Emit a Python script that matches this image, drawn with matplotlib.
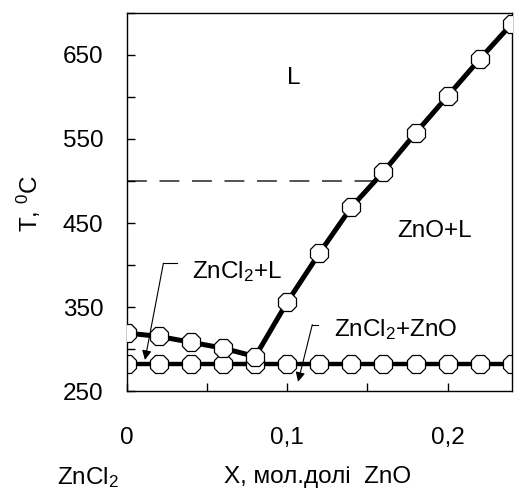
import matplotlib
matplotlib.use("Agg")
import matplotlib.pyplot as plt
import numpy as np

plt.rcParams['font.family'] = ['Liberation Sans', 'DejaVu Sans']
plt.rcParams['mathtext.default'] = 'regular'

# liquidus, X mol. fraction ZnO vs T, C
x_liq = [0, 0.02, 0.04, 0.06, 0.08, 0.10, 0.12, 0.14, 0.16, 0.18, 0.20, 0.22, 0.24]
t_liq = [319, 315, 308, 301, 291, 356, 414, 469, 511, 557, 601, 645, 687]

# eutectic line
x_eut = [0, 0.02, 0.04, 0.06, 0.08, 0.10, 0.12, 0.14, 0.16, 0.18, 0.20, 0.22, 0.24]
t_eut = [282] * 13

x_dash = [0, 0.16]
t_dash = [500, 500]

x_ticks = [0, 0.1, 0.2]
x_labels = ['0', '0,1', '0,2']
y_ticks = [250, 350, 450, 550, 650]

fs = 17.5

fig = plt.figure(figsize=(5.22, 4.9), dpi=100)
ax = fig.add_axes([0.2433, 0.202, 0.737, 0.7715])

ax.plot(x_dash, t_dash, color='#444444', lw=1.3, dashes=(11, 7), zorder=1)
ax.plot(x_eut, t_eut, color='black', lw=3.2, marker='8', ms=14.5,
        mfc='white', mec='black', mew=0.9, zorder=2)
ax.plot(x_liq, t_liq, color='black', lw=3.6, marker='8', ms=14.5,
        mfc='white', mec='black', mew=0.9, zorder=3)

ax.set_xlim(0, 0.24)
ax.set_ylim(250, 700)
ax.set_xticks(x_ticks)
ax.set_xticklabels(x_labels)
ax.set_xticks([0.05, 0.15], minor=True)
ax.set_yticks(y_ticks)
ax.set_yticks([300, 400, 500, 600, 700], minor=True)
ax.tick_params(which='both', direction='in', length=6, width=1, labelsize=fs)
ax.tick_params(axis='x', which='major', pad=26)
ax.tick_params(axis='y', which='major', pad=17)
for s in ax.spines.values():
    s.set_linewidth(1)

ax.text(0.104, 623, 'L', fontsize=fs, ha='center', va='center')
ax.text(0.192, 440, 'ZnO+L', fontsize=fs, ha='center', va='center')
ax.text(0.0405, 392, 'ZnCl$_2$+L', fontsize=fs, ha='left', va='center')
ax.text(0.129, 323, 'ZnCl$_2$+ZnO', fontsize=fs, ha='left', va='center')

# arrows to the regions
ax.plot([0.031, 0.0227], [402, 402], color='black', lw=0.8)
ax.annotate('', xy=(0.0112, 287), xytext=(0.0227, 402),
            arrowprops=dict(arrowstyle='-|>', color='black', lw=0.8,
                            mutation_scale=14, shrinkA=0, shrinkB=0))
ax.plot([0.119, 0.1156], [329, 329], color='black', lw=0.8)
ax.annotate('', xy=(0.1067, 261), xytext=(0.1156, 329),
            arrowprops=dict(arrowstyle='-|>', color='black', lw=0.8,
                            mutation_scale=14, shrinkA=0, shrinkB=0))

fig.text(0.055, 0.585, 'T, $^0$C', fontsize=fs, rotation=90, ha='center', va='center')
fig.text(0.609, 0.026, 'X, мол.долі  ZnO', fontsize=fs, ha='center', va='center')
fig.text(0.168, 0.026, 'ZnCl$_2$', fontsize=fs, ha='center', va='center')

fig.savefig('out.png', dpi=100)
